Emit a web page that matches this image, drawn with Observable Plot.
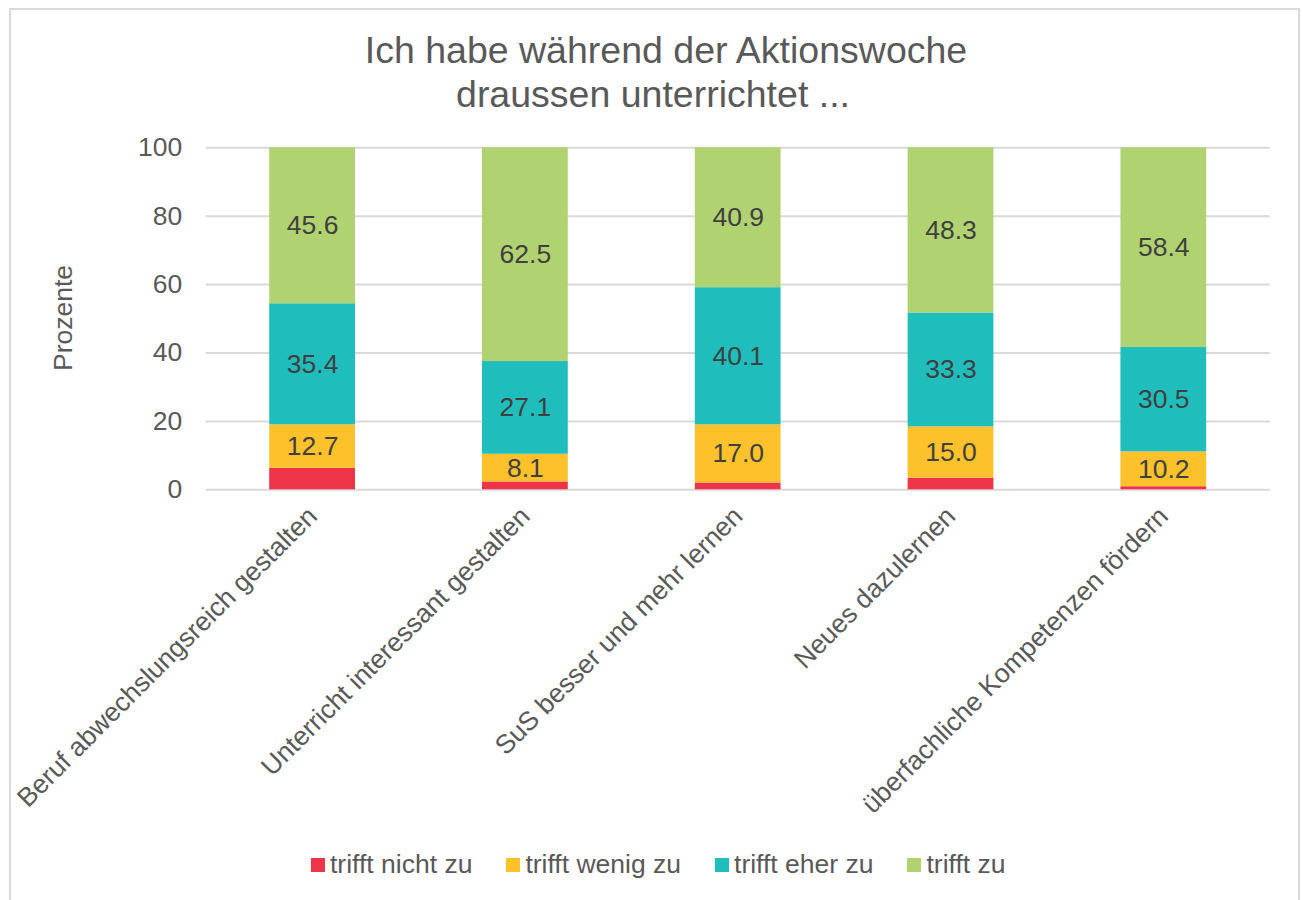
<!DOCTYPE html>
<html>
<head>
<meta charset="utf-8">
<script src="https://cdn.jsdelivr.net/npm/d3@7"></script>
<script src="https://cdn.jsdelivr.net/npm/@observablehq/plot@0.6"></script>
<style>
  html, body { margin: 0; padding: 0; background: #fff; }
  body { width: 1303px; height: 900px; position: relative; overflow: hidden; font-family: "Liberation Sans", Arial, sans-serif; color: #595959; }
  #frame { position: absolute; left: 9px; top: 8px; width: 1291px; height: 1000px; border: 2px solid #d9d9d9; box-sizing: border-box; }
  .tline { position: absolute; white-space: nowrap; font-size: 37.5px; line-height: 44px; color: #595959; transform: translateX(-50%); }
  #ylabel { position: absolute; left: 63px; top: 318px; transform: translate(-50%, -50%) rotate(-90deg); font-size: 26.5px; white-space: nowrap; color: #595959; }
  #chart { position: absolute; left: 0; top: 0; }
  #legend { position: absolute; left: 311px; top: 849px; display: flex; align-items: center; font-size: 26.5px; color: #595959; white-space: nowrap; }
  .item { display: flex; align-items: center; margin-right: 34px; }
  .sw { width: 14px; height: 14px; margin-right: 5px; }
</style>
</head>
<body>
<div id="frame"></div>
<div class="tline" style="left:666px; top:28px;">Ich habe während der Aktionswoche</div>
<div class="tline" style="left:653px; top:72px;">draussen unterrichtet ...</div>
<div id="ylabel">Prozente</div>
<div id="chart"></div>
<div id="legend"></div>
<script>
const categories = [
  "Beruf abwechslungsreich gestalten",
  "Unterricht interessant gestalten",
  "SuS besser und mehr lernen",
  "Neues dazulernen",
  "überfachliche Kompetenzen fördern"
];
const series = ["trifft nicht zu", "trifft wenig zu", "trifft eher zu", "trifft zu"];
const colors = ["#ee3448", "#fcc12b", "#20bdbd", "#b0d270"];
const trifftNichtZu = [6.3, 2.3, 2.0, 3.4, 0.9];
const trifftWenigZu = [12.7, 8.1, 17.0, 15.0, 10.2];
const trifftEherZu = [35.4, 27.1, 40.1, 33.3, 30.5];
const trifftZu = [45.6, 62.5, 40.9, 48.3, 58.4];
const yTicks = [0, 20, 40, 60, 80, 100];

const seriesValues = [trifftNichtZu, trifftWenigZu, trifftEherZu, trifftZu];
const data = [];
series.forEach((s, i) => {
  categories.forEach((c, j) => {
    data.push({category: c, series: s, value: seriesValues[i][j]});
  });
});
const fmt = d3.format(".1f");

const W = 1303, H = 840;
const chart = Plot.plot({
  width: W,
  height: H,
  marginTop: 147.3,
  marginBottom: H - 489.3,
  marginLeft: 205.7,
  marginRight: W - 1269.7,
  style: {fontFamily: '"Liberation Sans", Arial, sans-serif', fontSize: "26.5px", color: "#595959", background: "transparent", overflow: "visible"},
  x: {domain: categories, paddingInner: 0.597, paddingOuter: 0.2985, round: false, label: null},
  y: {domain: [0, 100], label: null},
  color: {domain: series, range: colors},
  marks: [
    Plot.gridY(yTicks, {stroke: "#d9d9d9", strokeOpacity: 1, strokeWidth: 2}),
    Plot.axisY(yTicks, {tickSize: 0, tickPadding: 24, fontSize: 26.5, fill: "#595959", label: null}),
    Plot.axisX({tickRotate: -45, tickSize: 0, tickPadding: 22, fontSize: 26.5, fill: "#595959", label: null}),
    Plot.barY(data, {x: "category", y: "value", fill: "series"}),
    Plot.text(data, Plot.stackY({
      x: "category", y: "value", z: "series",
      text: d => d.series === series[0] ? "" : fmt(d.value),
      fill: "#404040", fontSize: 26.5
    }))
  ]
});
document.getElementById("chart").appendChild(chart);

const legend = document.getElementById("legend");
series.forEach((s, i) => {
  const item = document.createElement("div");
  item.className = "item";
  const sw = document.createElement("div");
  sw.className = "sw";
  sw.style.background = colors[i];
  const t = document.createElement("span");
  t.textContent = s;
  item.appendChild(sw);
  item.appendChild(t);
  legend.appendChild(item);
});
</script>
</body>
</html>
